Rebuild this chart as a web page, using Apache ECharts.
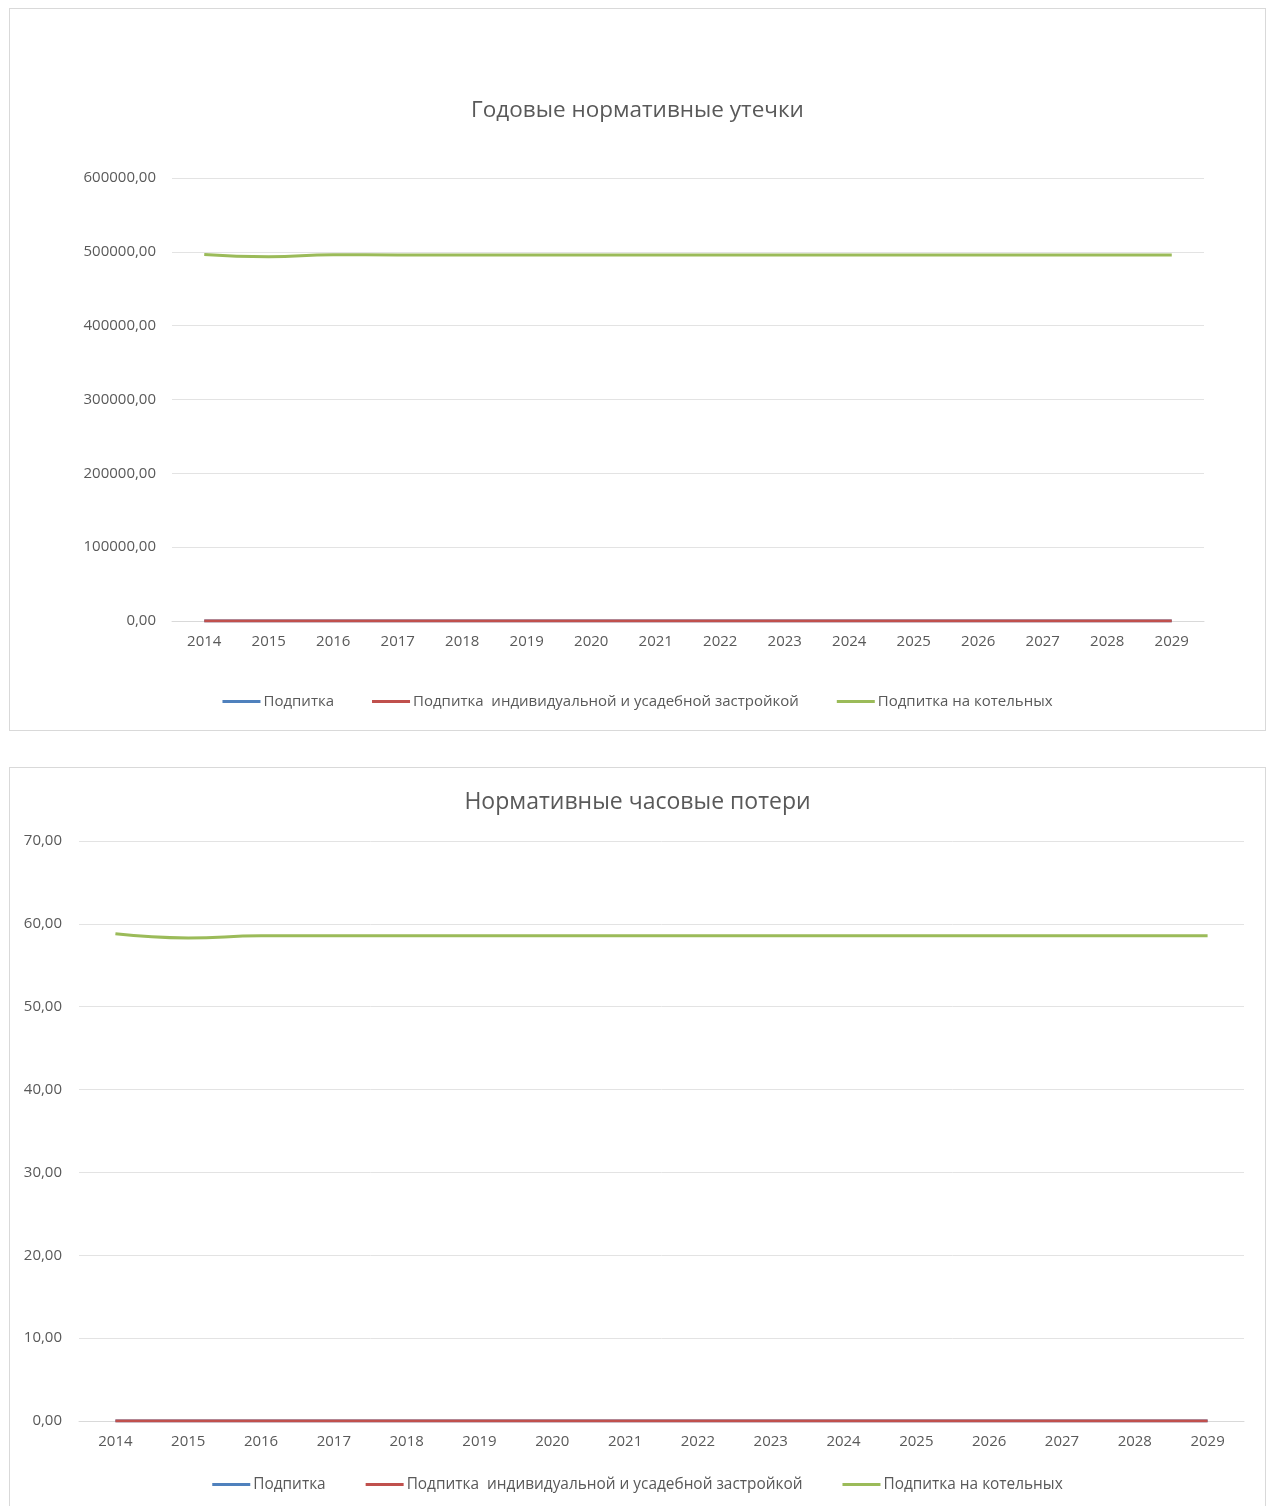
<!DOCTYPE html>
<html><head><meta charset="utf-8">
<script src="https://cdn.jsdelivr.net/npm/echarts@6/dist/echarts.min.js"></script>
<style>
html,body{margin:0;padding:0;background:#fff;width:1266px;height:1506px;overflow:hidden;}
.box{position:absolute;border:1px solid #d9d9d9;box-sizing:border-box;background:#fff;}
</style></head><body>
<div id="c1" class="box" style="left:9px;top:8px;width:1257px;height:723px;"></div>
<div id="c2" class="box" style="left:9px;top:767px;width:1257px;height:745px;"></div>
<script>
const years = ['2014','2015','2016','2017','2018','2019','2020','2021','2022','2023','2024','2025','2026','2027','2028','2029'];
const seriesNames = ['Подпитка', 'Подпитка  индивидуальной и усадебной застройкой', 'Подпитка на котельных'];
const colors = ['#4F81BD', '#C0504D', '#9BBB59'];

// Chart 1: Годовые нормативные утечки
const title1 = 'Годовые нормативные утечки';
const annualFeed = [0,0,0,0,0,0,0,0,0,0,0,0,0,0,0,0];
const annualPrivate = [0,0,0,0,0,0,0,0,0,0,0,0,0,0,0,0];
const annualBoiler = [496500,493500,496000,495800,495800,495800,495800,495800,495800,495800,495800,495800,495800,495800,495800,495800];

// Chart 2: Нормативные часовые потери
const title2 = 'Нормативные часовые потери';
const hourlyFeed = [0,0,0,0,0,0,0,0,0,0,0,0,0,0,0,0];
const hourlyPrivate = [0,0,0,0,0,0,0,0,0,0,0,0,0,0,0,0];
const hourlyBoiler = [58.8,58.3,58.55,58.55,58.55,58.55,58.55,58.55,58.55,58.55,58.55,58.55,58.55,58.55,58.55,58.55];

const FONT = '"Open Sans", "Noto Sans", sans-serif';
const fmt = v => v.toFixed(2).replace('.', ',');

function makeOption(title, data, yMax, yInterval, L) {
  return {
    animation: false,
    textStyle: {fontFamily: FONT},
    title: {text: title, left: 'center', top: L.titleTop,
      textStyle: {fontFamily: FONT, fontSize: L.titleSize, fontWeight: 'normal', color: '#595959'}},
    legend: {bottom: L.legendBottom, left: 'center', itemGap: L.itemGap, itemWidth: 38, itemHeight: 3,
      icon: 'rect',
      textStyle: {fontFamily: FONT, fontSize: L.legendSize, color: '#595959', padding: [0,0,0,-2]},
      data: seriesNames},
    grid: {left: L.left, right: L.right, top: L.top, bottom: L.bottom, containLabel: false},
    xAxis: {type: 'category', data: years, boundaryGap: true,
      axisLine: {show: true, lineStyle: {color: '#d9d9d9'}}, axisTick: {show: false},
      axisLabel: {color: '#595959', fontSize: 15, margin: 13, fontFamily: FONT}},
    yAxis: {type: 'value', min: 0, max: yMax, interval: yInterval,
      axisLine: {show: false}, axisTick: {show: false},
      splitLine: {lineStyle: {color: '#e3e3e3'}},
      axisLabel: {color: '#595959', fontSize: 15, margin: L.yMargin, formatter: fmt, fontFamily: FONT}},
    series: seriesNames.map((n, i) => ({
      name: n, type: 'line', data: data[i], smooth: true, showSymbol: false, symbol: 'none',
      color: colors[i], lineStyle: {width: 3, color: colors[i]}, z: i === 1 ? 4 : 3
    }))
  };
}

const ch1 = echarts.init(document.getElementById('c1'));
ch1.setOption(makeOption(title1, [annualFeed, annualPrivate, annualBoiler], 600000, 100000,
  {titleTop: 85, titleSize: 22.5, legendBottom: 16, legendSize: 15, itemGap: 38, yMargin: 16,
   left: 162, right: 61, top: 169, bottom: 109}));

const ch2 = echarts.init(document.getElementById('c2'));
ch2.setOption(makeOption(title2, [hourlyFeed, hourlyPrivate, hourlyBoiler], 70, 10,
  {titleTop: 18, titleSize: 23, legendBottom: 14, legendSize: 15.4, itemGap: 40, yMargin: 17,
   left: 69, right: 21, top: 73, bottom: 90}));
</script>
</body></html>
